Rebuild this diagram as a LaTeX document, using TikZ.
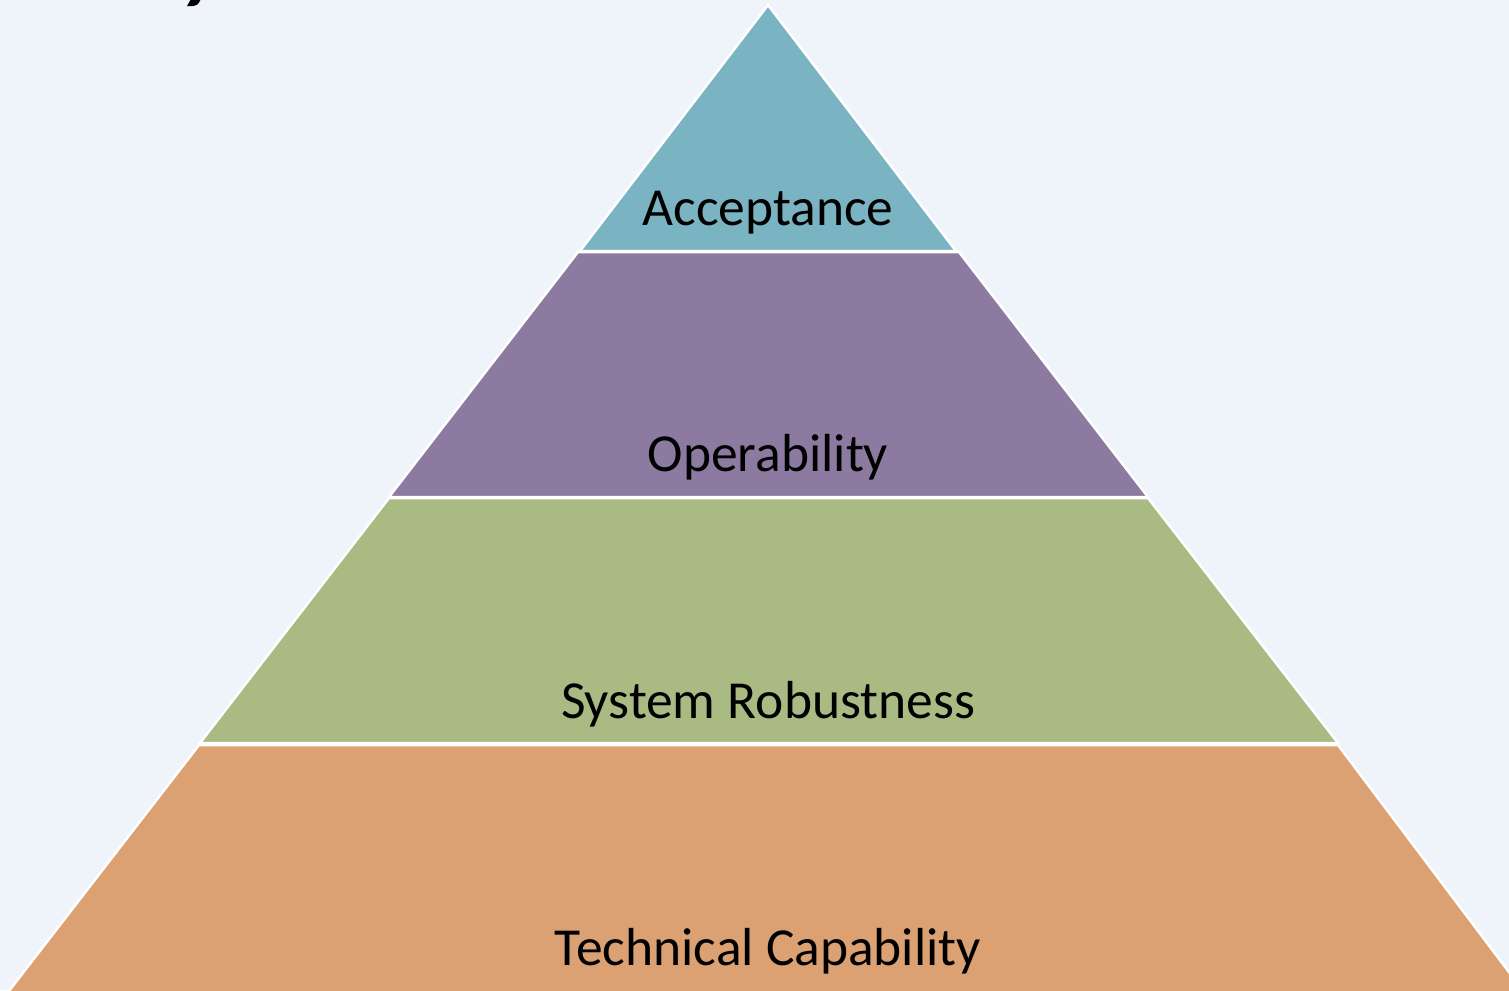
\documentclass[tikz,border=0pt]{standalone}
\usepackage{fontspec}
\setmainfont{Carlito}
\definecolor{bg}{HTML}{EFF3FA}
\definecolor{cAcc}{HTML}{7AB3C1}
\definecolor{cOp}{HTML}{8C7AA0}
\definecolor{cRob}{HTML}{A9BA83}
\definecolor{cTech}{HTML}{DBA172}
\tikzset{
  layer/.style={draw=white, line width=2.5pt, line join=miter},
  lbl/.style={anchor=base, inner sep=0pt, font=\fontsize{53.5}{60}\selectfont, text=black}
}
\begin{document}
\begin{tikzpicture}[x=1pt,y=-1pt]
\fill[bg] (0,0) rectangle (1509,990);
\useasboundingbox (0,0) rectangle (1509,990);
\begin{scope}
\clip (0,0) rectangle (1509,990);
% layers
\path[layer, fill=cTech] (199,745) -- (1338,745) -- (1530,1000) -- (2,1000) -- cycle;
\path[layer, fill=cRob] (389,498) -- (1148,498) -- (1338,743) -- (200,743) -- cycle;
\path[layer, fill=cOp] (578,252) -- (959,252) -- (1148,497) -- (389,497) -- cycle;
\path[layer, fill=cAcc] (768,5) -- (956,251) -- (580,251) -- cycle;
% cut-off title fragment
\fill[black] (191,-1) -- (201,-1) -- (198,4) .. controls (196,6) and (191,6.5) .. (187,6) -- cycle;
\end{scope}
\node[lbl] (acc) at (768,225) {Acceptance};
\node[lbl] (op) at (768,471) {Operability};
\node[lbl] (rob) at (768,718) {System Robustness};
\node[lbl] (tech) at (768,965) {Technical Capability};
\end{tikzpicture}
\end{document}
